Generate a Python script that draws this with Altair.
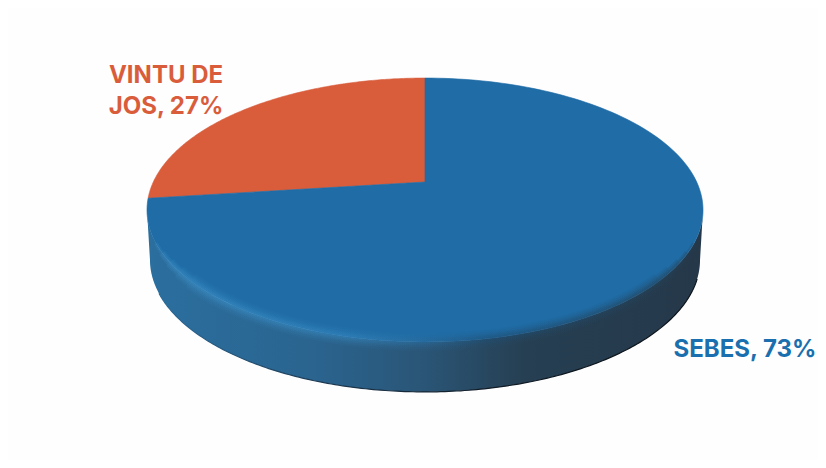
import numpy as np
import pandas as pd
import altair as alt

names = ["VINTU DE JOS", "SEBES"]
shares = [27, 73]
colors = ["#d95d3b", "#1f6ca6"]
label_lines = ["VINTU DE", "JOS, 27%", "SEBES, 73%"]
label_colors = ["#d95d3b", "#d95d3b", "#1a6fae"]

# disc geometry, in picture pixels
CX, CY, RX, SY, P = 425.0, 182.0, 271.7, 126.0, 0.212
DEPTH = 50.0


def disc(deg, shrink=1.0, dy=0.0):
    t = np.radians(np.asarray(deg, dtype=float))
    u, v = np.cos(t), np.sin(t)
    w = 1 + P * v
    return CX + shrink * RX * u / w, CY + dy - SY * v / w


def frame(x, y, key):
    return pd.DataFrame({"px": x, "py": y, "i": np.arange(len(x)), "k": key})


X = alt.X("px:Q", scale=alt.Scale(domain=[8, 818]), axis=None)
Y = alt.Y("py:Q", scale=alt.Scale(domain=[460, 8]), axis=None)
ORDER = alt.Order("i:Q")


def base(df):
    return alt.Chart(df)


# slices run counter-clockwise from the top of the disc
slices = []
start = 90.0
for name, share in zip(names, shares):
    end = start + share * 3.6
    a = np.linspace(start, end, 160)
    x, y = disc(a)
    x = np.concatenate([[CX], x, [CX]])
    y = np.concatenate([[CY], y, [CY]])
    slices.append(frame(x, y, name))
    start = end
slices_df = pd.concat(slices)

# the widest points of the disc outline, where the visible wall begins and ends
phi = np.degrees(np.arcsin(-P))
front = np.linspace(180 - phi, 360 + phi, 200)
fx, fy = disc(front)
bx, by = disc(front, shrink=275 / 278, dy=DEPTH)
wx = np.concatenate([fx, bx[::-1]])
wy = np.concatenate([fy, by[::-1]])
wall_df = frame(wx, wy, "wall")
ex, ey = disc(np.linspace(180 - phi + 14, 360 + phi - 8, 200), shrink=275 / 278, dy=DEPTH)
bottom_df = frame(ex, ey, "edge")

wall_grad = alt.LinearGradient(
    gradient="linear", x1=0, x2=1, y1=0, y2=0,
    stops=[
        alt.GradientStop(color="#2b6f9f", offset=0),
        alt.GradientStop(color="#2a648f", offset=0.3),
        alt.GradientStop(color="#2a5576", offset=0.5),
        alt.GradientStop(color="#263f52", offset=0.68),
        alt.GradientStop(color="#25384a", offset=1),
    ],
)
rim_grad = alt.LinearGradient(
    gradient="linear", x1=0, x2=1, y1=0, y2=0,
    stops=[
        alt.GradientStop(color="#3d8fc6", offset=0),
        alt.GradientStop(color="#3585bd", offset=0.35),
        alt.GradientStop(color="#2a6a9a", offset=0.5),
        alt.GradientStop(color="#1f4f75", offset=0.62),
        alt.GradientStop(color="#243f52", offset=1),
    ],
)
edge_grad = alt.LinearGradient(
    gradient="linear", x1=0, x2=1, y1=0, y2=0,
    stops=[
        alt.GradientStop(color="#2b6a98", offset=0),
        alt.GradientStop(color="#1d3a52", offset=0.3),
        alt.GradientStop(color="#101c26", offset=0.6),
        alt.GradientStop(color="#0c1218", offset=1),
    ],
)

wall = base(wall_df).mark_line(fill=wall_grad, strokeWidth=0).encode(x=X, y=Y, order=ORDER)
edge = base(bottom_df).mark_line(stroke=edge_grad, strokeWidth=1.2).encode(x=X, y=Y, order=ORDER)
top = base(slices_df).mark_line(strokeWidth=0.6).encode(
    x=X, y=Y, order=ORDER,
    fill=alt.Fill("k:N", scale=alt.Scale(domain=names, range=colors), legend=None),
    stroke=alt.Stroke("k:N", scale=alt.Scale(domain=names, range=colors), legend=None),
)

# soft front rim: nested strokes that stop short of the silhouette's widest points
rims = []
for w, o, trim in [(18, 0.08, 30), (14, 0.12, 26), (10, 0.16, 22), (7, 0.2, 18), (4, 0.22, 14)]:
    ang = np.linspace(180 - phi + trim, 360 + phi - trim, 200)
    rx_, ry_ = disc(ang)
    rims.append(
        base(frame(rx_, ry_, "rim")).mark_line(stroke=rim_grad, strokeWidth=w, opacity=o)
        .encode(x=X, y=Y, order=ORDER)
    )

labels_df = pd.DataFrame({
    "px": [166, 166, 745],
    "py": [76, 107, 350],
    "t": label_lines,
    "c": label_colors,
})
labels = base(labels_df).mark_text(
    font="Inter", fontWeight=700, fontSize=24, align="center", baseline="middle"
).encode(x=X, y=Y, text="t:N", color=alt.Color("c:N", scale=None))

chart = alt.layer(wall, edge, top, *rims, labels).properties(
    width=810, height=452, padding=0, background="#fefeff"
).configure_view(stroke=None)

chart.save("out.html", embed_options={"renderer": "svg", "actions": False})
